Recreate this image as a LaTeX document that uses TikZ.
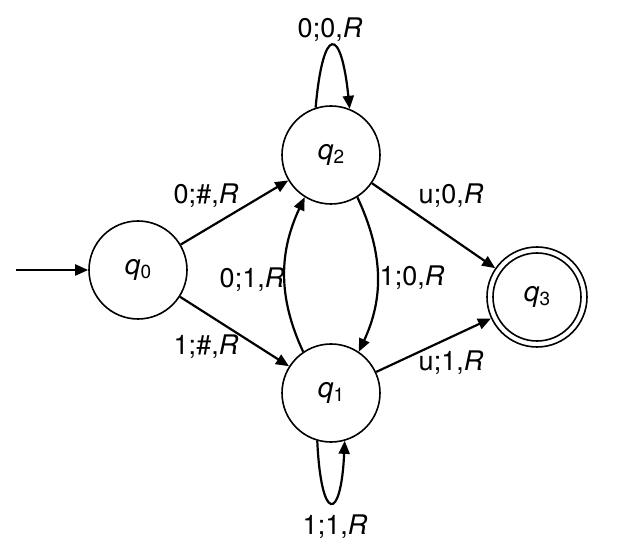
\documentclass[tikz,border=0pt]{standalone}
\usepackage{fontspec}
\setmainfont{TeX Gyre Heros}
\usetikzlibrary{arrows.meta}
\newcommand{\stlab}[2]{\fontsize{28}{32}\selectfont\textit{#1}\raisebox{-0.3ex}{\fontsize{19}{21}\selectfont #2}}
\begin{document}
\begin{tikzpicture}[x=1pt,y=1pt,
  state/.style={circle,draw,line width=1.6pt,minimum size=98pt,inner sep=0pt},
  edge/.style={line width=2.2pt,-{Triangle[length=13pt,width=11pt]}},
  lbl/.style={inner sep=0pt,font=\fontsize{27}{31}\selectfont}]
\useasboundingbox (0,0) rectangle (634,557);
\node[state] (q0) at (138,287) {\stlab{q}{0}};
\node[state] (q2) at (331,402) {\stlab{q}{2}};
\node[state] (q1) at (331,164) {\stlab{q}{1}};
\node[state,minimum size=100pt] (q3) at (537,260) {\stlab{q}{3}};
\draw[line width=1.6pt] (q3.center) circle[radius=44pt];
\coordinate (init) at (16,287);
\draw[edge] (init) -- (q0);
\draw[edge] (q0) -- (q2);
\draw[edge] (q0) -- (q1);
\draw[edge] (q1.124) to[out=115,in=245] (q2.238);
\draw[edge] (q2.302) to[out=-65,in=65] (q1.56);
\draw[edge] (q2) -- (q3);
\draw[edge] (q1) -- (q3);
\draw[edge] (q2.108) .. controls (323,532) and (341,532) .. (q2.68);
\draw[edge] (q1.254) .. controls (321,34) and (341,34) .. (q1.286);
\node[lbl] (l22) at (330,527) {0;0,\textit{R}};
\node[lbl] (l02) at (206,361) {0;\#,\textit{R}};
\node[lbl] (l01) at (206,210) {1;\#,\textit{R}};
\node[lbl] (l12) at (252,277) {0;1,\textit{R}};
\node[lbl] (l21) at (412,279) {1;0,\textit{R}};
\node[lbl] (l23) at (451,361) {u;0,\textit{R}};
\node[lbl] (l13) at (451,194) {u;1,\textit{R}};
\node[lbl] (l11) at (335,30) {1;1,\textit{R}};
\end{tikzpicture}
\end{document}
